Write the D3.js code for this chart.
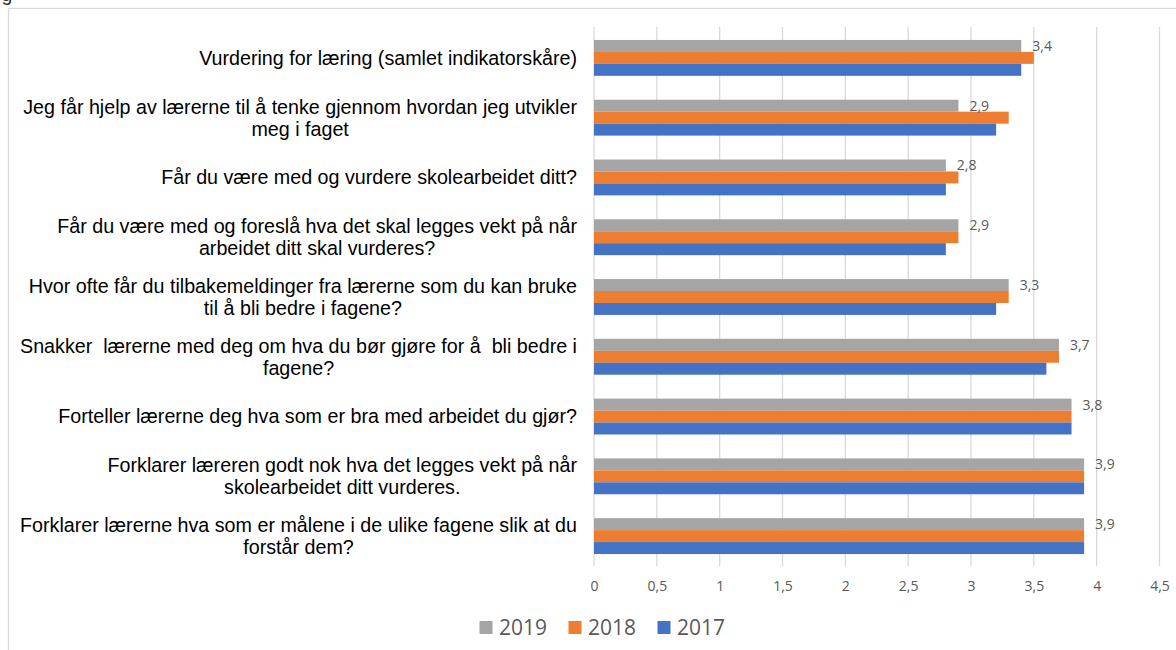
<!DOCTYPE html>
<html>
<head>
<meta charset="utf-8">
<script src="https://cdn.jsdelivr.net/npm/d3@7"></script>
<style>
  html, body { margin: 0; padding: 0; background: #fff; }
  svg { display: block; }
  text { white-space: pre; }
</style>
</head>
<body>
<svg id="chart" width="1176" height="650"></svg>
<script>
// ---- data ----
const categories = [
  ["Vurdering for læring (samlet indikatorskåre)"],
  ["Jeg får hjelp av lærerne til å tenke gjennom hvordan jeg utvikler", "meg i faget"],
  ["Får du være med og vurdere skolearbeidet ditt?"],
  ["Får du være med og foreslå hva det skal legges vekt på når", "arbeidet ditt skal vurderes?"],
  ["Hvor ofte får du tilbakemeldinger fra lærerne som du kan bruke", "til å bli bedre i fagene?"],
  ["Snakker  lærerne med deg om hva du bør gjøre for å  bli bedre i", "fagene?"],
  ["Forteller lærerne deg hva som er bra med arbeidet du gjør?"],
  ["Forklarer læreren godt nok hva det legges vekt på når", "skolearbeidet ditt vurderes."],
  ["Forklarer lærerne hva som er målene i de ulike fagene slik at du", "forstår dem?"]
];
const seriesNames = ["2019", "2018", "2017"];
const values2019 = [3.4, 2.9, 2.8, 2.9, 3.3, 3.7, 3.8, 3.9, 3.9];
const values2018 = [3.5, 3.3, 2.9, 2.9, 3.3, 3.7, 3.8, 3.9, 3.9];
const values2017 = [3.4, 3.2, 2.8, 2.8, 3.2, 3.6, 3.8, 3.9, 3.9];
const seriesColors = ["#A5A5A5", "#ED7D31", "#4472C4"];
const tickValues = [0, 0.5, 1, 1.5, 2, 2.5, 3, 3.5, 4, 4.5];
const labelSeries = "2019";

const seriesValues = { "2019": values2019, "2018": values2018, "2017": values2017 };
const fmt = d => String(d).replace(".", ",");

const svg = d3.select("#chart");

// frame
svg.append("rect").attr("x", 8.5).attr("y", 8.5).attr("width", 1300).attr("height", 800)
  .attr("fill", "none").attr("stroke", "#d9d9d9").attr("stroke-width", 1.3);
// cut-off title remnant at the very top edge (as in the reference)
svg.append("text").attr("x", 1.5).attr("y", 0.5).attr("font-family", "Liberation Sans, Arial, sans-serif")
  .attr("font-size", 19.5).attr("fill", "#333").text("g");

const x = d3.scaleLinear().domain([0, 4.5]).range([594, 1159.5]);
const y = d3.scaleBand().domain(d3.range(categories.length)).range([28, 566])
  .paddingInner(0.4).paddingOuter(0.2);
const yInner = d3.scaleBand().domain(seriesNames).range([0, y.bandwidth()]);

// gridlines
svg.append("g").selectAll("line").data(tickValues).join("line")
  .attr("x1", d => x(d)).attr("x2", d => x(d))
  .attr("y1", 27).attr("y2", 566)
  .attr("stroke", "#d9d9d9").attr("stroke-width", 1.3);

// bars
const groups = svg.append("g").selectAll("g").data(categories.map((c, i) => i)).join("g")
  .attr("transform", i => `translate(0,${y(i)})`);
groups.selectAll("rect").data(i => seriesNames.map((s, k) => ({ s, k, v: seriesValues[s][i] }))).join("rect")
  .attr("x", x(0)).attr("y", d => yInner(d.s))
  .attr("width", d => x(d.v) - x(0)).attr("height", yInner.bandwidth())
  .attr("fill", d => seriesColors[d.k]);

// data labels (2019)
groups.append("text")
  .attr("x", i => x(seriesValues[labelSeries][i]) + 11)
  .attr("y", yInner(labelSeries) + yInner.bandwidth() / 2)
  .attr("dy", "0.35em")
  .attr("font-family", "Open Sans, sans-serif").attr("font-size", 14).attr("fill", "#595959")
  .text(i => fmt(seriesValues[labelSeries][i]));

// x axis
const axis = d3.axisBottom(x).tickValues(tickValues).tickFormat(fmt).tickSize(0).tickPadding(0);
const ax = svg.append("g").attr("transform", "translate(0,580)").call(axis);
ax.select(".domain").remove();
ax.selectAll("text").attr("font-family", "Open Sans, sans-serif").attr("font-size", 14)
  .attr("fill", "#595959").attr("dy", "0.75em");

// category labels
const labelRight = 577;
const lineH = 22;
categories.forEach((lines, i) => {
  const g = svg.append("g");
  const cy = y(i) + y.bandwidth() / 2;
  const texts = lines.map((ln, j) => g.append("text")
    .attr("y", cy + (j - (lines.length - 1) / 2) * lineH)
    .attr("dy", "0.35em")
    .attr("text-anchor", "middle")
    .attr("font-family", "Liberation Sans, Arial, sans-serif")
    .attr("font-size", 19.7).attr("fill", "#000")
    .text(ln));
  const maxW = d3.max(texts, t => t.node().getComputedTextLength());
  texts.forEach(t => t.attr("x", labelRight - maxW / 2));
});

// legend
const legendX = [479.5, 568.5, 657.5];
const legend = svg.append("g");
seriesNames.forEach((s, k) => {
  legend.append("rect").attr("x", legendX[k]).attr("y", 621).attr("width", 13).attr("height", 13)
    .attr("fill", seriesColors[k]);
  legend.append("text").attr("x", legendX[k] + 19.5).attr("y", 627.5).attr("dy", "0.35em")
    .attr("font-family", "Open Sans, sans-serif").attr("font-size", 21).attr("fill", "#595959")
    .text(s);
});
</script>
</body>
</html>
